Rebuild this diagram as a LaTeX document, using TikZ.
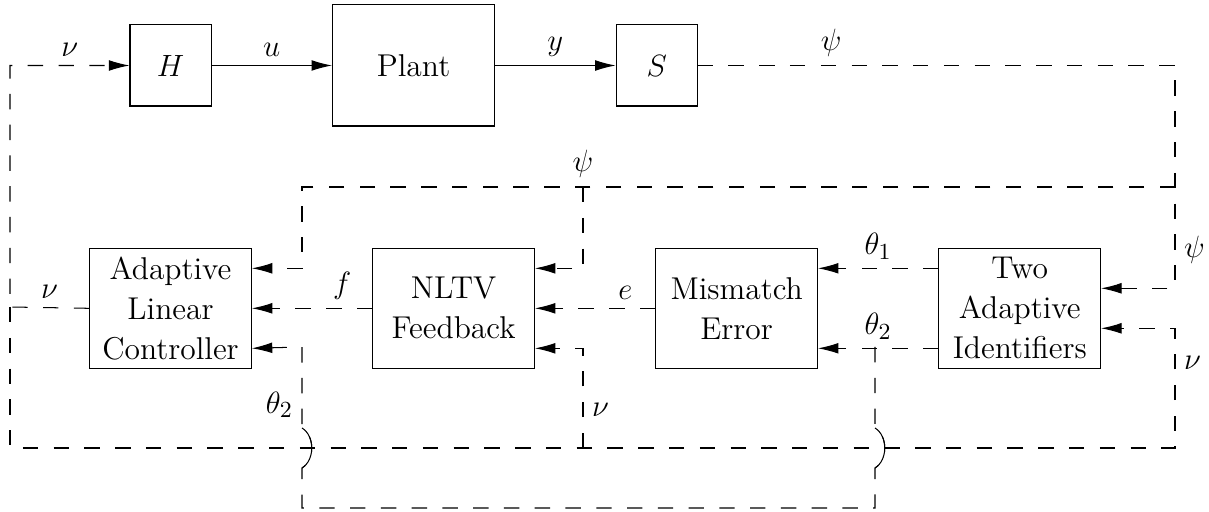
\documentclass[tikz,border=0pt]{standalone}
\usepackage{amsmath, amssymb}
\usepackage{tikz}
\usetikzlibrary{positioning, arrows.meta}

\begin{document}
\begin{tikzpicture}[
   x=0.39pt, y=-0.39pt,
   font=\fontsize{12.3}{15.6}\selectfont,
   sbox/.style={draw, minimum width=31.6pt, minimum height=31.6pt},
   pbox/.style={draw, minimum width=63.2pt, minimum height=47.2pt},
   bbox/.style={draw, align=center, inner sep=1pt,
         minimum width=63pt, minimum height=47pt},
   arr/.style={-{Latex[length=8pt, width=4.2pt]}},
   sig/.style={dash pattern=on 6pt off 6pt},
   node distance=47pt,
  ]
  \useasboundingbox (0,0) rectangle (1209,512);

  \node[sbox] (H) at (170.5,65.5) {$H$};
  \node[pbox, right=of H] (plant) {Plant};
  \node[sbox, right=of plant] (S) {$S$};

  \node[bbox, below=55pt of H] (ctrl) {Adaptive\\Linear\\Controller};
  \node[bbox, right=of ctrl] (nltv) {NLTV\\Feedback};
  \node[bbox, right=of nltv] (mis) {Mismatch\\Error};
  \node[bbox, right=of mis] (ident) {Two\\Adaptive\\Identifiers};

  \coordinate (psiR) at (1175,187);
  \coordinate (psiM) at (583,187);
  \coordinate (psiL) at (302,187);
  \coordinate (nuL) at (10,307);
  \coordinate (nuB) at (10,448);
  \coordinate (nuM) at (583,448);
  \coordinate (nuR) at (1175,448);
  \coordinate (thR) at (875,347);
  \coordinate (thL) at (302,347);

  \draw[arr] (H.east) -- node[above] (ulab) {$u$} (plant.west);
  \draw[arr] (plant.east) -- node[above] (ylab) {$y$} (S.west);

  % psi
  \draw[sig, arr] (S.east) -| node[pos=.14, above] (psilab1) {$\psi$} (psiR)
    |- ([yshift=7.8pt]ident.east);
  \draw[sig, arr] (psiR) -- (psiL) |- ([yshift=15.6pt]ctrl.east);
  \draw[sig, arr] (psiM) |- ([yshift=15.6pt]nltv.east);
  \node[above] (psilab2) at (psiM) {$\psi$};
  \node[right] (psilab3) at (1175,250) {$\psi$};

  % nu
  \draw[sig, arr] (ctrl.west) -- node[above] (nulab1) {$\nu$} (nuL)
    |- node[pos=.75, above] (nulab2) {$\nu$} (H.west);
  \draw[sig, arr] (nuL) -- (nuB) -- (nuR) |- ([yshift=-7.8pt]ident.east);
  \draw[sig, arr] (nuM) |- ([yshift=-15.6pt]nltv.east);
  \node[right] (nulab3) at (583,410) {$\nu$};
  \node[right] (nulab4) at (1175,363) {$\nu$};

  % theta, e, f
  \draw[sig, arr] ([yshift=15.6pt]ident.west) -- node[above] (th1lab) {$\theta_1$} ([yshift=15.6pt]mis.east);
  \draw[sig, arr] ([yshift=-15.6pt]ident.west) -- node[above] (th2lab) {$\theta_2$} ([yshift=-15.6pt]mis.east);
  \draw[sig, arr] (mis.west) -- node[pos=.25, above] (elab) {$e$} (nltv.east);
  \draw[sig, arr] (nltv.west) -- node[pos=.25, above] (flab) {$f$} (ctrl.east);

  % theta_2 back to the controller, jumping over the nu line
  \draw[sig, arr] (thR) -- (875,428) .. controls (888,436) and (888,460) .. (875,468)
    -- (875,508) -| (302,468) .. controls (315,460) and (315,436) .. (302,428)
    -- (thL) -- ([yshift=-15.6pt]ctrl.east);
  \draw (875,428) .. controls (888,436) and (888,460) .. (875,468);
  \draw (302,468) .. controls (315,460) and (315,436) .. (302,428);
  \node[left] (th2lab2) at (302,405) {$\theta_2$};
\end{tikzpicture}
\end{document}
